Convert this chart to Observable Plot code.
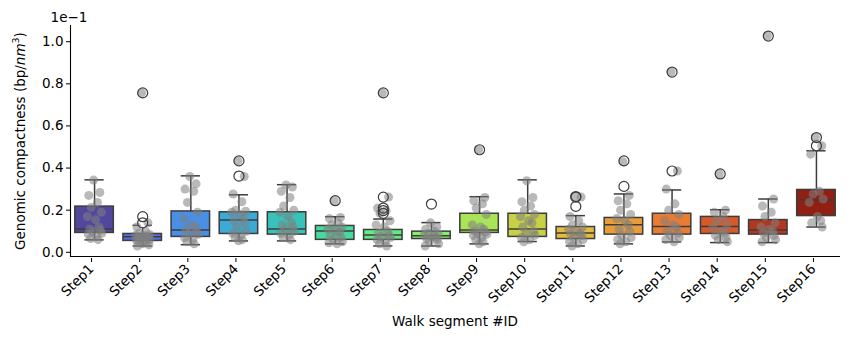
<!DOCTYPE html>
<html>
<head>
<meta charset="utf-8">
<script src="https://cdn.jsdelivr.net/npm/d3@7"></script>
<script src="https://cdn.jsdelivr.net/npm/@observablehq/plot@0.6"></script>
<style>
  html, body { margin: 0; padding: 0; background: #fff; }
  #chart svg { display: block; font-family: "DejaVu Sans", sans-serif; }
</style>
</head>
<body>
<div id="chart"></div>
<script>
// Genomic compactness per walk segment, values in units of 1e-1 bp/nm^3.
const steps = ["Step1","Step2","Step3","Step4","Step5","Step6","Step7","Step8",
               "Step9","Step10","Step11","Step12","Step13","Step14","Step15","Step16"];

// Box statistics per step
const q1      = [0.092,0.054,0.073,0.087,0.084,0.059,0.059,0.063,0.092,0.073,0.063,0.084,0.084,0.087,0.084,0.172];
const median  = [0.111,0.074,0.106,0.153,0.111,0.101,0.082,0.078,0.106,0.111,0.092,0.131,0.122,0.122,0.106,0.248];
const q3      = [0.217,0.087,0.194,0.190,0.190,0.125,0.106,0.098,0.183,0.183,0.120,0.163,0.183,0.168,0.153,0.296];
const whiskLo = [0.059,0.030,0.036,0.054,0.054,0.040,0.030,0.030,0.040,0.051,0.030,0.040,0.049,0.046,0.046,0.120];
const whiskHi = [0.344,0.128,0.363,0.273,0.321,0.169,0.158,0.141,0.264,0.344,0.174,0.277,0.296,0.202,0.253,0.482];

// Outliers: [step number, value]
const outliers = [
  [2,0.757],[2,0.169],[2,0.140],
  [4,0.434],[4,0.362],
  [6,0.245],
  [7,0.757],[7,0.262],[7,0.210],[7,0.198],[7,0.185],
  [8,0.229],
  [9,0.487],
  [11,0.265],[11,0.262],[11,0.218],
  [12,0.434],[12,0.313],
  [13,0.856],[13,0.386],
  [14,0.372],
  [15,1.027],
  [16,0.545],[16,0.506]
];

// Individual observations per step
const observations = [
  [0.343,0.284,0.27,0.237,0.213,0.19,0.17,0.155,0.12,0.11,0.105,0.098,0.09,0.085,0.075,0.065,0.06],
  [0.757,0.14,0.12,0.1,0.09,0.085,0.08,0.078,0.075,0.072,0.07,0.065,0.06,0.058,0.055,0.05,0.045,0.04,0.035,0.03],
  [0.36,0.325,0.30,0.29,0.237,0.19,0.16,0.13,0.12,0.11,0.1,0.09,0.085,0.07,0.06,0.05,0.04],
  [0.434,0.36,0.277,0.24,0.2,0.195,0.19,0.18,0.16,0.15,0.14,0.12,0.1,0.09,0.08,0.07,0.06,0.055],
  [0.32,0.31,0.29,0.26,0.22,0.2,0.19,0.17,0.14,0.13,0.12,0.11,0.1,0.09,0.08,0.07,0.06],
  [0.245,0.165,0.16,0.14,0.13,0.12,0.11,0.1,0.095,0.08,0.07,0.06,0.05,0.045,0.04],
  [0.757,0.262,0.21,0.198,0.185,0.15,0.13,0.12,0.1,0.09,0.08,0.075,0.07,0.06,0.05,0.04,0.03],
  [0.14,0.12,0.11,0.1,0.09,0.085,0.08,0.075,0.07,0.065,0.06,0.05,0.04,0.03],
  [0.487,0.26,0.245,0.23,0.21,0.18,0.13,0.12,0.11,0.1,0.095,0.09,0.085,0.08,0.07,0.06,0.05,0.04],
  [0.34,0.26,0.24,0.22,0.2,0.18,0.17,0.15,0.14,0.12,0.1,0.09,0.08,0.07,0.06,0.05],
  [0.265,0.262,0.17,0.15,0.13,0.12,0.11,0.1,0.09,0.085,0.08,0.07,0.06,0.05,0.04,0.03],
  [0.43,0.27,0.245,0.23,0.2,0.18,0.16,0.15,0.13,0.11,0.1,0.08,0.07,0.06,0.05,0.04],
  [0.856,0.386,0.3,0.23,0.2,0.18,0.15,0.13,0.12,0.1,0.09,0.08,0.07,0.06,0.05],
  [0.372,0.2,0.19,0.17,0.15,0.13,0.12,0.1,0.09,0.08,0.07,0.06,0.05],
  [1.027,0.253,0.22,0.19,0.17,0.14,0.12,0.11,0.1,0.09,0.08,0.07,0.06,0.05],
  [0.545,0.506,0.466,0.29,0.277,0.253,0.237,0.17,0.15,0.14,0.12]
];

// Horizontal strip jitter offsets (in step units), reused across steps
const jitter = [-0.02,0.11,-0.12,0.06,-0.07,0.14,-0.15,0.02,0.09,-0.10,0.12,-0.04,0.15,-0.13,0.04,-0.08,0.07,-0.01,0.13,-0.11,0.08,-0.05];

const yTicks = [0, 0.2, 0.4, 0.6, 0.8, 1.0];

// Turbo palette, desaturated like a boxplot fill
function boxColor(k) {
  const c = d3.hsl(d3.interpolateTurbo((k + 1) / (steps.length + 1)));
  c.s *= 0.8;
  return c.formatHex();
}

const stats = steps.map((s, k) => ({
  i: k + 1, q1: q1[k], med: median[k], q3: q3[k], lo: whiskLo[k], hi: whiskHi[k], fill: boxColor(k)
}));
const outlierRows = outliers.map(([i, v]) => ({i, v}));
const points = observations.flatMap((vals, k) =>
  vals.map((v, j) => ({x: k + 1 + jitter[j % jitter.length], v})));

const line = "#3c3c3c";
const boxHalf = 0.4, capHalf = 0.2;
const fs = 13.5;

const chart = Plot.plot({
  width: 853,
  height: 340,
  marginLeft: 70,
  marginRight: 13,
  marginTop: 25,
  marginBottom: 84,
  style: {fontFamily: "DejaVu Sans, sans-serif", fontSize: fs + "px", color: "#000", background: "#fff"},
  x: {type: "linear", domain: [0.5, 16.5]},
  y: {domain: [-0.02, 1.077]},
  marks: [
    Plot.axisY({ticks: yTicks, tickFormat: d => d.toFixed(1), tickSize: 4, tickPadding: 3,
                fontSize: fs, label: null, stroke: "#000"}),
    Plot.axisX({ticks: d3.range(1, steps.length + 1), tickFormat: i => steps[i - 1], tickSize: 4,
                tickRotate: -45, tickPadding: 4, dx: -3, dy: 2, fontSize: fs, label: null, stroke: "#000"}),
    // whiskers and caps
    Plot.ruleX(stats, {x: "i", y1: "lo", y2: "hi", stroke: line, strokeWidth: 1.5}),
    Plot.ruleY(stats, {y: "hi", x1: d => d.i - capHalf, x2: d => d.i + capHalf, stroke: line, strokeWidth: 1.5}),
    Plot.ruleY(stats, {y: "lo", x1: d => d.i - capHalf, x2: d => d.i + capHalf, stroke: line, strokeWidth: 1.5}),
    // boxes
    Plot.rect(stats, {x1: d => d.i - boxHalf, x2: d => d.i + boxHalf, y1: "q1", y2: "q3",
                      fill: "fill", stroke: line, strokeWidth: 1.5}),
    Plot.ruleY(stats, {y: "med", x1: d => d.i - boxHalf, x2: d => d.i + boxHalf, stroke: line, strokeWidth: 1.5}),
    // outlier backgrounds
    Plot.dot(outlierRows, {x: "i", y: "v", r: 5, fill: "#fff", stroke: "none"}),
    // observations
    Plot.dot(points, {x: "x", y: "v", r: 4.5, fill: "#808080", fillOpacity: 0.55, stroke: "none"}),
    // outlier rings
    Plot.dot(outlierRows, {x: "i", y: "v", r: 5, fill: "none", stroke: line, strokeWidth: 1.2}),
    // spines
    Plot.ruleX([0.5], {stroke: "#000", strokeWidth: 1.1}),
    Plot.ruleY([-0.02], {stroke: "#000", strokeWidth: 1.1})
  ]
});

const svg = d3.select(chart);

// axis offset label
svg.append("text")
  .attr("x", 69).attr("y", 22)
  .attr("font-size", fs).attr("fill", "#000")
  .text("1e\u22121");

// y-axis title
const yLab = svg.append("text")
  .attr("transform", "translate(25,141) rotate(-90)")
  .attr("text-anchor", "middle")
  .attr("font-size", fs).attr("fill", "#000");
yLab.append("tspan").text("Genomic compactness (bp/");
yLab.append("tspan").attr("font-style", "italic").text("nm");
yLab.append("tspan").attr("font-size", 9.5).attr("dy", -6).text("3");
yLab.append("tspan").attr("dy", 6).text(")");

// x-axis title
svg.append("text")
  .attr("x", 455).attr("y", 326)
  .attr("text-anchor", "middle")
  .attr("font-size", fs).attr("fill", "#000")
  .text("Walk segment #ID");

document.getElementById("chart").appendChild(chart);
</script>
</body>
</html>
